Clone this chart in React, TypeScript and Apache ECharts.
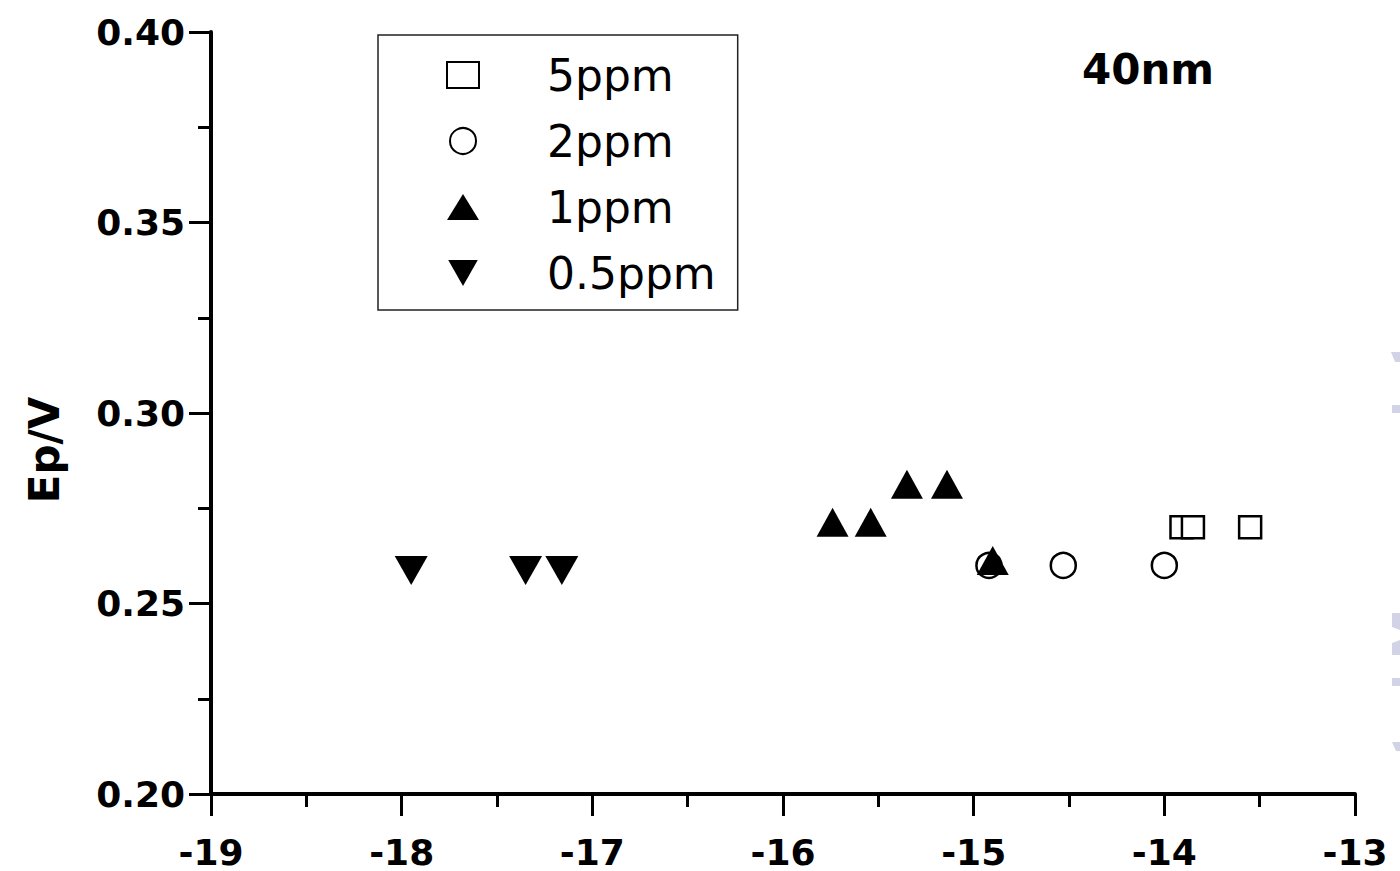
import { useEffect, useRef } from 'react';
import * as echarts from 'echarts';

// ---- data ----
const seriesNames = ['5ppm', '2ppm', '1ppm', '0.5ppm'];
const x5ppm = [-13.91, -13.85, -13.55];
const y5ppm = [0.27, 0.27, 0.27];
const x2ppm = [-14.92, -14.53, -14.0];
const y2ppm = [0.26, 0.26, 0.26];
const x1ppm = [-15.74, -15.54, -15.35, -15.14, -14.9];
const y1ppm = [0.27, 0.27, 0.28, 0.28, 0.26];
const x05ppm = [-17.95, -17.35, -17.16];
const y05ppm = [0.26, 0.26, 0.26];

const xTickValues = [-19, -18, -17, -16, -15, -14, -13];
const yTickLabels = ['0.20', '0.25', '0.30', '0.35', '0.40'];
const xAxisTitle = '';
const yAxisTitle = 'Ep/V';
const panelLabel = '40nm';

const pair = (xs: number[], ys: number[]) => xs.map((x, i) => [x, ys[i]]);

const BOLD_FONT = 'DejaVu Sans, sans-serif';
const TEXT_FONT = 'DejaVu Sans, sans-serif';

export default function App() {
  const ref = useRef<HTMLDivElement>(null);
  useEffect(() => {
    if (!ref.current) return;
    const chart = echarts.init(ref.current, undefined, { renderer: 'svg' });
    const axisLine = { show: true, onZero: false, lineStyle: { color: '#000', width: 4 } };
    const tick = { show: true, inside: false, length: 22, lineStyle: { color: '#000', width: 3 } };
    const minor = { show: true, splitNumber: 2, length: 13, lineStyle: { color: '#000', width: 3 } };
    const downTri = 'path://M0,0 L10,0 L5,8.8 Z';
    chart.setOption({
      animation: false,
      backgroundColor: '#fff',
      title: {
        text: panelLabel,
        left: 1082,
        top: 48,
        padding: 0,
        textStyle: { fontFamily: BOLD_FONT, fontSize: 42, fontWeight: 'bold', color: '#000' },
      },
      legend: {
        orient: 'vertical',
        left: 378,
        top: 35,
        padding: [18, 22, 15, 68],
        itemWidth: 32,
        itemHeight: 26,
        itemGap: 22,
        borderColor: '#222',
        borderWidth: 1.5,
        borderRadius: 0,
        data: seriesNames,
        textStyle: {
          fontFamily: TEXT_FONT,
          fontSize: 44,
          color: '#000',
          padding: [0, 0, 0, 63],
        },
      },
      grid: { left: 211, top: 32, right: 45, bottom: 77, containLabel: false },
      xAxis: {
        type: 'value',
        name: xAxisTitle,
        min: xTickValues[0],
        max: xTickValues[xTickValues.length - 1],
        interval: 1,
        axisLine,
        axisTick: tick,
        minorTick: minor,
        splitLine: { show: false },
        minorSplitLine: { show: false },
        axisLabel: {
          margin: 40,
          fontFamily: BOLD_FONT,
          fontSize: 36,
          fontWeight: 'bold',
          color: '#000',
          formatter: (v: number) => String(v),
        },
      },
      yAxis: {
        type: 'value',
        name: yAxisTitle,
        nameLocation: 'middle',
        nameGap: 146,
        nameTextStyle: {
          fontFamily: BOLD_FONT,
          fontSize: 42,
          fontWeight: 'bold',
          color: '#000',
          padding: [0, 74, 0, 0],
        },
        min: 0.2,
        max: 0.4,
        interval: 0.05,
        axisLine,
        axisTick: tick,
        minorTick: minor,
        splitLine: { show: false },
        minorSplitLine: { show: false },
        axisLabel: {
          margin: 26,
          fontFamily: BOLD_FONT,
          fontSize: 36,
          fontWeight: 'bold',
          color: '#000',
          formatter: (v: number) => yTickLabels[Math.round((v - 0.2) / 0.05)] ?? v.toFixed(2),
        },
      },
      series: [
        {
          name: seriesNames[0],
          type: 'scatter',
          data: pair(x5ppm, y5ppm),
          symbol: 'rect',
          symbolSize: 22,
          itemStyle: { color: '#fff', borderColor: '#000', borderWidth: 2.5, opacity: 1 },
          z: 2,
        },
        {
          name: seriesNames[1],
          type: 'scatter',
          data: pair(x2ppm, y2ppm),
          symbol: 'circle',
          symbolSize: 25,
          itemStyle: { color: '#fff', borderColor: '#000', borderWidth: 2.5, opacity: 1 },
          z: 3,
        },
        {
          name: seriesNames[2],
          type: 'scatter',
          data: pair(x1ppm, y1ppm),
          symbol: 'triangle',
          symbolSize: [32, 29],
          symbolOffset: [0, -5],
          itemStyle: { color: '#000', opacity: 1 },
          z: 4,
        },
        {
          name: seriesNames[3],
          type: 'scatter',
          data: pair(x05ppm, y05ppm),
          symbol: downTri,
          symbolSize: [33, 29],
          symbolOffset: [0, 5],
          itemStyle: { color: '#000', opacity: 1 },
          z: 5,
        },
      ],
      graphic: [
        { type: 'polygon', shape: { points: [[1391, 352], [1400, 352], [1400, 362], [1395, 362]] }, style: { fill: '#d3d3e7' }, silent: true },
        { type: 'rect', shape: { x: 1392, y: 405, width: 8, height: 8 }, style: { fill: '#d3d3e7' }, silent: true },
        { type: 'polygon', shape: { points: [[1392, 613], [1400, 613], [1400, 630], [1392, 627]] }, style: { fill: '#d3d3e7' }, silent: true },
        { type: 'polygon', shape: { points: [[1392, 643], [1400, 640], [1400, 655], [1392, 655]] }, style: { fill: '#d3d3e7' }, silent: true },
        { type: 'rect', shape: { x: 1392, y: 678, width: 8, height: 8 }, style: { fill: '#d3d3e7' }, silent: true },
        { type: 'polygon', shape: { points: [[1392, 742], [1400, 742], [1400, 751], [1396, 751]] }, style: { fill: '#d3d3e7' }, silent: true },
      ],
    });
    return () => chart.dispose();
  }, []);
  return (
    <div
      ref={ref}
      style={{ position: 'fixed', left: 0, top: 0, width: 1400, height: 871, background: '#fff' }}
    />
  );
}
